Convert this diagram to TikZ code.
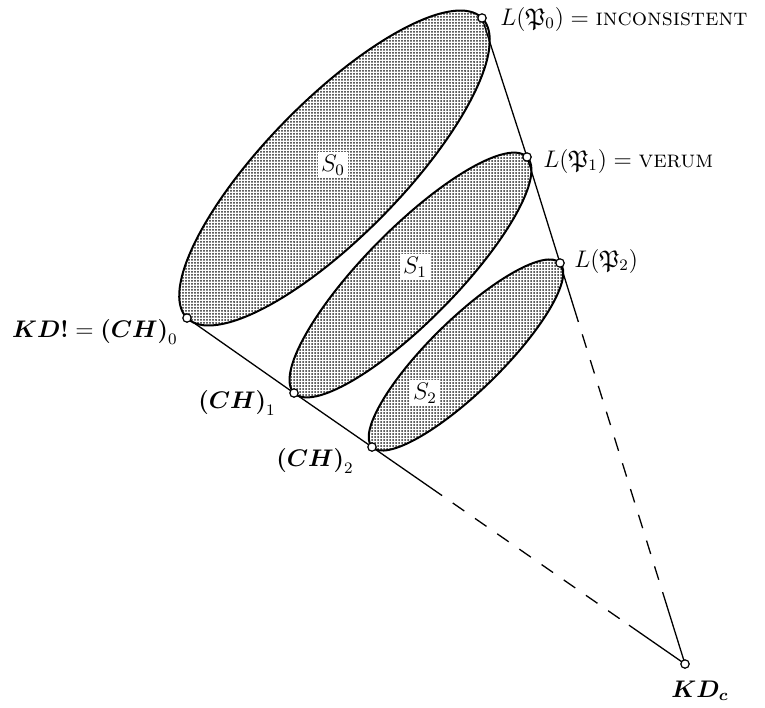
\documentclass[tikz,border=0pt]{standalone}
\usepackage{amsmath,amssymb}
\usetikzlibrary{calc,patterns.meta}
\begin{document}
\begin{tikzpicture}[x=0.5pt,y=-0.5pt,
  font=\fontsize{12}{14}\selectfont,
  region/.style={draw=black,line width=1pt,
    pattern={Dots[distance=1.5pt,radius=0.5pt]},pattern color=black!85},
  slabel/.style={fill=white,inner sep=1.6pt},
  edge/.style={line width=0.65pt},
  dashedge/.style={line width=0.65pt,dash pattern=on 7pt off 6.5pt,dash phase=7pt},
  pt/.style={circle,draw=black,fill=white,line width=0.6pt,inner sep=0pt,minimum size=4.2pt}]
\useasboundingbox (0,0) rectangle (765,707);
% positions
\coordinate (p0) at (482,18);
\coordinate (p1) at (527,157);
\coordinate (p2) at (560,263);
\coordinate (kd) at (685,664);
\coordinate (c0) at (187,318);
\coordinate (c1) at (294,393);
\coordinate (c2) at (372,447);
% regions
\draw[region,rotate around={45.5:($(c0)!0.5!(p0)$)}] ($(c0)!0.5!(p0)$) ellipse [x radius=210.4,y radius=68];
\draw[region,rotate around={45.4:($(c1)!0.5!(p1)$)}] ($(c1)!0.5!(p1)$) ellipse [x radius=165.8,y radius=46];
\draw[region,rotate around={44.4:($(c2)!0.5!(p2)$)}] ($(c2)!0.5!(p2)$) ellipse [x radius=131.5,y radius=36];
\node[slabel] (s0) at (333,165) {$S_0$};
\node[slabel] (s1) at (415,267) {$S_1$};
\node[slabel] (s2) at (425,393) {$S_2$};
% right boundary
\coordinate (r1) at ($(p2)!0.147!(kd)$);
\coordinate (r2) at ($(p2)!0.853!(kd)$);
\draw[edge] (p0) -- (p1) -- (p2) -- (r1);
\draw[dashedge] (r1) -- (r2);
\draw[edge] (r2) -- (kd);
% left boundary
\coordinate (l1) at ($(c2)!0.224!(kd)$);
\coordinate (l2) at ($(c2)!0.821!(kd)$);
\draw[edge] (c0) -- (c1) -- (c2) -- (l1);
\draw[dashedge] (l1) -- (l2);
\draw[edge] (l2) -- (kd);
% points
\node[pt] (P0) at (p0) {};
\node[pt] (P1) at (p1) {};
\node[pt] (P2) at (p2) {};
\node[pt] (KD) at (kd) {};
\node[pt] (C0) at (c0) {};
\node[pt] (C1) at (c1) {};
\node[pt] (C2) at (c2) {};
% labels
\node[anchor=base west,inner sep=0pt] (tp0) at (500,25) {$L(\mathfrak{P}_0)=\textsc{inconsistent}$};
\node[anchor=base west,inner sep=0pt] (tp1) at (543,167) {$L(\mathfrak{P}_1)=\textsc{verum}$};
\node[anchor=base west,inner sep=0pt] (tp2) at (574,267) {$L(\mathfrak{P}_2)$};
\node[anchor=base east,inner sep=0pt] (tc0) at (178,337) {$\boldsymbol{KD!}=\boldsymbol{(CH)}_0$};
\node[anchor=base east,inner sep=0pt] (tc1) at (276,408) {$\boldsymbol{(CH)}_1$};
\node[anchor=base east,inner sep=0pt] (tc2) at (354,466) {$\boldsymbol{(CH)}_2$};
\node[anchor=base,inner sep=0pt] (tkd) at (700,697) {$\boldsymbol{KD_c}$};
\end{tikzpicture}
\end{document}
